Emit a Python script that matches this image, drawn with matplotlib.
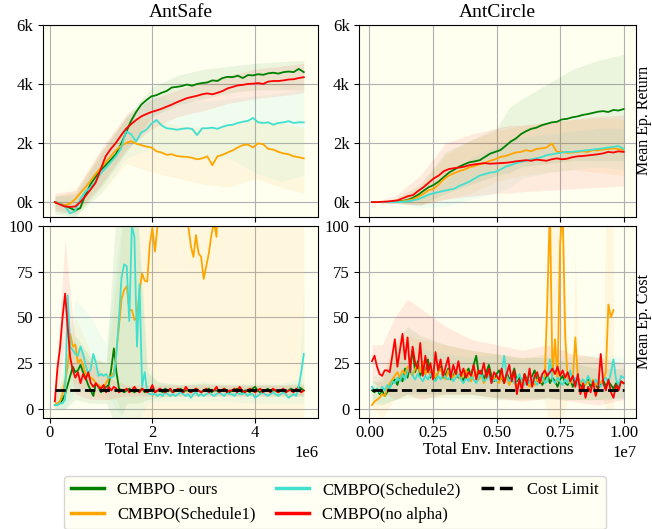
import numpy as np
import matplotlib
matplotlib.use("Agg")
import matplotlib.pyplot as plt
from matplotlib.lines import Line2D
from matplotlib.ticker import MultipleLocator

plt.rcParams['font.family'] = ['Liberation Serif', 'DejaVu Serif']
plt.rcParams['font.size'] = 12
plt.rcParams['axes.facecolor'] = 'ivory'
plt.rcParams['axes.linewidth'] = 0.8

# ---------------- AntSafe : return ----------------
safe_ret_x = np.linspace(0.1e6, 4.95e6, 50)
safe_ret_ours = [0, -60, -120, -200, -280, -200, 250, 600, 850, 1080, 1250, 1430, 1620, 1950, 2350,
                 2750, 3050, 3300, 3450, 3580, 3620, 3700, 3760, 3880, 3900, 3930, 3980, 3940, 4000,
                 4030, 4050, 4120, 4100, 4200, 4240, 4230, 4280, 4200, 4300, 4290, 4330, 4310, 4360,
                 4380, 4350, 4400, 4420, 4400, 4510, 4400]
safe_ret_sched1 = [0, -50, -100, -50, 100, 300, 500, 720, 950, 1150, 1350, 1550, 1750, 1900, 2000,
                   2060, 1980, 1930, 1880, 1850, 1720, 1680, 1600, 1620, 1560, 1540, 1530, 1500, 1450,
                   1480, 1550, 1250, 1550, 1600, 1680, 1750, 1850, 1930, 1950, 1850, 1990, 1960, 1800,
                   1780, 1700, 1650, 1620, 1550, 1520, 1480]
safe_ret_sched2 = [0, -50, -150, -380, -300, 100, 350, 500, 700, 970, 1150, 1350, 1550, 1800, 2400,
                   2300, 2050, 2350, 2450, 2650, 2780, 2600, 2500, 2480, 2450, 2480, 2500, 2480, 2270,
                   2500, 2500, 2520, 2480, 2550, 2600, 2620, 2680, 2720, 2750, 2850, 2700, 2680, 2700,
                   2620, 2680, 2700, 2740, 2680, 2700, 2700]
safe_ret_noalpha = [0, -80, -150, -160, -150, 0, 200, 420, 650, 1100, 1550, 1800, 2000, 2250, 2480,
                    2640, 2780, 2900, 2980, 3050, 3100, 3160, 3230, 3300, 3380, 3450, 3520, 3560, 3600,
                    3650, 3680, 3650, 3700, 3760, 3850, 3900, 3950, 3970, 4000, 4010, 4030, 4000, 4080,
                    4100, 4100, 4120, 4150, 4160, 4200, 4230]

# std bands (coarse)
safe_band_x = np.array([0.1, 0.5, 1.0, 1.5, 2.0, 2.5, 3.0, 3.5, 4.0, 4.5, 4.95]) * 1e6
safe_ret_ours_lo = [-400, -500, 500, 1700, 2900, 3300, 3500, 3700, 3800, 3800, 3800]
safe_ret_ours_hi = [200, 300, 1700, 2900, 3900, 4300, 4500, 4600, 4700, 4750, 4800]
safe_ret_sched1_lo = [-200, -400, 300, 1300, 1000, 800, 600, 500, 800, 500, 300]
safe_ret_sched1_hi = [200, 400, 1700, 2900, 2800, 2600, 2500, 2600, 2800, 2700, 2500]
safe_ret_sched2_lo = [-300, -500, 300, 1500, 1800, 1600, 1500, 1500, 1000, 700, 900]
safe_ret_sched2_hi = [200, 200, 1600, 2900, 3600, 3400, 3400, 3500, 3600, 3700, 3800]
safe_ret_noalpha_lo = [-300, -400, 600, 1800, 2500, 2900, 3100, 3350, 3500, 3600, 3700]
safe_ret_noalpha_hi = [300, 400, 1800, 3000, 3500, 3800, 4100, 4300, 4500, 4600, 4700]

# ---------------- AntCircle : return ----------------
circ_ret_x = np.linspace(0.01e7, 1.0e7, 50)
circ_ret_ours = [0, 0, 5, 10, 10, 20, 40, 80, 150, 250, 380, 500, 580, 700, 850, 1000, 1100, 1200,
                 1280, 1350, 1380, 1420, 1530, 1640, 1700, 1760, 1900, 2050, 2150, 2300, 2400, 2480,
                 2520, 2600, 2650, 2700, 2720, 2800, 2820, 2870, 2900, 2950, 2980, 3020, 3060, 3080,
                 3050, 3120, 3100, 3150]
circ_ret_sched1 = [0, 0, 0, 0, 0, 10, 30, 60, 100, 180, 280, 400, 450, 600, 780, 900, 980, 1050,
                   1100, 1180, 1220, 1280, 1330, 1400, 1450, 1530, 1560, 1620, 1680, 1700, 1760, 1720,
                   1800, 1820, 1850, 1990, 1700, 1700, 1670, 1680, 1700, 1720, 1700, 1760, 1750, 1780,
                   1800, 1820, 1790, 1760]
circ_ret_sched2 = [0, 0, 0, 0, 0, 0, 10, 30, 60, 100, 170, 250, 300, 340, 380, 420, 450, 550, 620,
                   700, 800, 900, 950, 1000, 1020, 1100, 1200, 1250, 1320, 1360, 1400, 1450, 1480,
                   1520, 1590, 1620, 1650, 1680, 1700, 1700, 1720, 1740, 1760, 1780, 1800, 1820, 1850,
                   1870, 1900, 1800]
circ_ret_noalpha = [0, 0, 10, 20, 40, 60, 130, 200, 240, 380, 500, 650, 800, 900, 1050, 1120, 1150,
                    1170, 1200, 1250, 1280, 1300, 1320, 1300, 1310, 1320, 1330, 1350, 1380, 1400, 1420,
                    1400, 1440, 1420, 1400, 1450, 1480, 1450, 1470, 1520, 1550, 1560, 1580, 1600, 1620,
                    1650, 1700, 1680, 1720, 1700]

circ_band_x = np.array([0.01, 0.1, 0.2, 0.3, 0.4, 0.5, 0.55, 0.6, 0.7, 0.8, 0.9, 1.0]) * 1e7
circ_ret_ours_lo = [0, -50, -100, 300, 600, 900, 1000, 1200, 1300, 1400, 1400, 1400]
circ_ret_ours_hi = [0, 100, 600, 1700, 2100, 2500, 3200, 3500, 4000, 4500, 4800, 5000]
circ_ret_sched1_lo = [0, 0, -100, 100, 300, 700, 800, 900, 1000, 1100, 1000, 900]
circ_ret_sched1_hi = [0, 100, 500, 1600, 2100, 2400, 2500, 2600, 2700, 2800, 2850, 2800]
circ_ret_sched2_lo = [0, 0, -200, -150, 100, 300, 500, 800, 1000, 1100, 1200, 1100]
circ_ret_sched2_hi = [0, 50, 200, 700, 1500, 1900, 2100, 2200, 2300, 2400, 2500, 2500]
circ_ret_noalpha_lo = [0, -50, -100, 100, 200, 300, 300, 350, 400, 450, 500, 550]
circ_ret_noalpha_hi = [0, 200, 900, 2000, 2300, 2500, 2600, 2600, 2700, 2800, 2900, 2950]

# ---------------- AntSafe : cost ----------------
safe_cost_x = np.linspace(0.1e6, 4.95e6, 98)
safe_cost_ours = [2, 2.5, 3, 5, 8, 13, 18, 23, 20, 21, 24, 20, 17, 13, 10, 7, 14, 12, 9, 11, 12, 13,
                  22, 33, 20, 11, 10,
                  9, 10, 11, 10, 9, 10, 10, 11, 9, 10, 10,
                  11, 9, 10, 10, 9, 11, 10, 10, 9, 10, 10, 11, 9, 10, 10, 9, 10, 11, 10, 9,
                  10, 10, 11, 9, 10, 10, 9, 10, 11, 10, 9, 10, 10, 11, 10, 9, 10, 10, 9, 11,
                  12, 10, 9, 10, 10, 11, 9, 10, 10, 9, 10, 10, 9, 10, 11, 10, 10, 12, 11, 10]
safe_cost_sched1 = [2, 3, 4, 8, 15, 23, 41, 34, 35, 25, 27, 24, 19, 18, 17, 16, 14, 13, 12, 12, 14,
                    17, 18, 20, 32, 45, 60, 65, 67, 54, 54, 48.6, 50, 65, 74, 70, 69.6, 90, 99, 86,
                    100, 110, 125, 140, 160, 150, 170, 155, 140, 130, 120, 110, 100, 89, 83, 95, 85,
                    83, 71, 78, 85, 95, 102, 94,
                    140, 160, 150, 170, 180, 160, 150, 175, 190, 170, 160, 150, 180, 170, 165, 190,
                    200, 180, 170, 160, 175, 185, 170, 160, 150, 165, 180, 175, 160, 155, 170, 160,
                    150, 145]
safe_cost_sched2 = [2, 2, 3, 3, 5, 62, 34, 32, 30, 29, 34, 30, 24, 19, 22, 30, 25, 18, 19, 18, 19,
                    17, 17, 18, 30, 50, 72, 79, 78, 48, 100, 94, 34, 68, 12, 20, 9, 8, 8,
                    8, 7, 8, 7, 9, 8, 7, 8, 7, 8, 9, 8, 7, 8, 6, 8, 9, 7, 8, 7,
                    8, 9, 8, 7, 8, 9, 8, 7, 9, 8, 8, 7, 9, 8, 8, 9, 7, 8, 8, 6,
                    7, 8, 9, 8, 7, 8, 9, 8, 7, 8, 9, 8, 6, 7, 8, 7, 12, 20, 30]
safe_cost_noalpha = [4, 22, 33, 50, 63, 45, 28, 21, 17, 20, 14, 19, 16, 20, 14, 12, 14, 12, 11, 13,
                     9, 12, 10, 12, 11, 9, 10,
                     10, 11, 9, 10, 12, 10, 9, 11, 10, 9, 10,
                     13, 9, 10, 11, 10, 9, 10, 11, 9, 10, 11, 10, 9, 12, 10, 9, 10, 11, 10, 9,
                     10, 11, 9, 10, 10, 12, 9, 10, 11, 9, 10, 10, 11, 9, 12, 10, 9, 10, 11, 10,
                     9, 10, 11, 9, 10, 10, 9, 11, 10, 9, 10, 11, 9, 10, 10, 9, 11, 10, 9, 10]

safe_cband_x = np.array([0.1, 0.3, 0.5, 0.8, 1.1, 1.3, 1.5, 1.7, 1.9, 2.1, 2.5, 3.0, 3.5, 4.0,
                         4.5, 4.85, 4.95]) * 1e6
safe_cost_ours_lo = [0, 0, 5, 3, 3, -10, 3, 3, 5, 6, 7, 7, 7, 7, 7, 7, 7]
safe_cost_ours_hi = [5, 20, 40, 28, 25, 110, 110, 110, 20, 15, 13, 14, 13, 13, 13, 14, 14]
safe_cost_sched1_lo = [0, 5, 15, 8, 5, 5, -10, -10, -10, -10, -10, -10, -10, -10, -10, -10, -10]
safe_cost_sched1_hi = [5, 25, 50, 30, 25, 70, 120, 120, 150, 150, 150, 150, 150, 150, 150, 150,
                       150]
safe_cost_sched2_lo = [0, 0, 10, 10, 8, 0, -10, -10, 3, 4, 4, 4, 4, 3, 3, 3, 3]
safe_cost_sched2_hi = [5, 30, 60, 50, 35, 80, 120, 120, 25, 14, 14, 15, 14, 14, 14, 16, 65]
safe_cost_noalpha_lo = [0, 35, 8, 5, 5, 6, 7, 7, 7, 7, 7, 7, 7, 7, 7, 7, 7]
safe_cost_noalpha_hi = [8, 93, 35, 25, 18, 15, 13, 13, 13, 13, 13, 13, 13, 13, 13, 13, 13]

# ---------------- AntCircle : cost ----------------
circ_cost_x = np.linspace(0.01e7, 1.0e7, 100)
circ_cost_ours = [10, 9, 11, 8, 10, 7, 9, 12, 14, 16, 13, 18, 15, 22, 17, 24, 32, 20, 26, 18,
                  23, 19, 27, 17, 21, 16, 20, 23, 17, 19, 22, 16, 18, 21, 17, 19, 15, 20, 22, 18,
                  24, 29, 19, 21, 16, 20, 24, 18, 15, 19, 21, 17, 14, 20, 16, 18, 22, 15, 17, 13,
                  19, 16, 14, 18, 21, 15, 17, 13, 16, 19, 14, 17, 15, 12, 16, 18, 14, 13, 16, 12,
                  15, 17, 13, 11, 14, 16, 12, 15, 13, 11, 14, 16, 12, 15, 13, 11, 14, 12, 15, 14]
circ_cost_sched1_x = np.linspace(0.01e7, 0.96e7, 96)
circ_cost_sched1 = [2, 4, 5, 6, 8, 7, 11, 14, 16, 18, 20, 17, 21, 19, 23, 20, 18, 22, 24, 20,
                    26, 19, 22, 18, 21, 17, 20, 22, 18, 16, 21, 19, 17, 20, 18, 16, 19, 21, 17, 15,
                    18, 20, 16, 18, 14, 17, 19, 15, 17, 16, 14, 18, 15, 17, 13, 16, 14, 12, 15, 13,
                    16, 14, 12, 15, 13, 16, 14, 15, 18, 60, 110, 18, 38, 15, 90, 110, 40, 15, 14, 16,
                    39, 17, 14, 16, 13, 15, 14, 16, 13, 15, 14, 16, 20, 57, 50, 54]
circ_cost_sched2 = [12, 10, 11, 9, 12, 10, 13, 11, 15, 14, 17, 15, 19, 16, 20, 24, 18, 16, 19, 17,
                    15, 18, 16, 19, 17, 15, 18, 16, 19, 17, 16, 18, 15, 17, 19, 16, 14, 17, 15, 18,
                    16, 14, 17, 19, 15, 16, 18, 14, 16, 15, 17, 20, 29, 18, 15, 17, 14, 16, 19, 15,
                    13, 16, 14, 17, 15, 13, 16, 18, 14, 15, 27, 16, 14, 17, 15, 13, 16, 14, 21, 15,
                    17, 13, 15, 16, 14, 18, 15, 13, 16, 14, 12, 15, 17, 14, 20, 27, 16, 13, 18, 17]
circ_cost_noalpha = [26, 29, 23, 19, 18, 21, 21, 20, 29, 38, 23, 32, 41, 27, 39, 20, 34, 25, 22, 36,
                     18, 29, 20, 25, 16, 31, 21, 27, 18, 23, 28, 17, 24, 19, 26, 18, 22, 17, 20, 18,
                     24, 16, 21, 19, 25, 17, 22, 14, 20, 18, 16, 22, 14, 19, 24, 15, 21, 8, 16, 10,
                     19, 13, 22, 12, 18, 20, 14, 19, 21, 18, 20, 22, 19, 23, 18, 21, 17, 20, 15, 18,
                     12, 19, 8, 14, 6, 12, 9, 15, 7, 12, 30, 14, 10, 16, 9, 6, 13, 10, 15, 14]

circ_cband_x = np.array([0.01, 0.05, 0.1, 0.15, 0.2, 0.3, 0.4, 0.5, 0.6, 0.7, 0.8, 0.9, 1.0]) * 1e7
circ_cost_ours_lo = [3, 2, 5, 8, 8, 8, 8, 6, 6, 6, 5, 5, 6]
circ_cost_ours_hi = [15, 15, 35, 45, 40, 35, 32, 30, 28, 28, 25, 22, 22]
circ_cost_sched2_lo = [5, 3, 5, 6, 6, 6, 6, 5, 5, 5, 5, 5, 5]
circ_cost_sched2_hi = [18, 18, 30, 35, 33, 30, 28, 30, 27, 30, 28, 30, 28]
circ_cost_noalpha_lo = [15, 10, 5, 8, 5, 8, 8, 6, 4, 6, 4, 2, 5]
circ_cost_noalpha_hi = [35, 35, 50, 60, 55, 45, 38, 35, 32, 35, 30, 28, 25]
circ_s1band_x = np.array([0.01, 0.05, 0.1, 0.15, 0.2, 0.3, 0.4, 0.5, 0.6, 0.69, 0.7, 0.72, 0.74,
                          0.76, 0.78, 0.8, 0.81, 0.82, 0.9, 0.92, 0.93, 0.96]) * 1e7
circ_cost_sched1_lo = [0, -5, 5, 6, 6, 6, 6, 5, 5, 5, -5, -5, -5, -5, 5, 5, 5, 5, 5, 5, 0, 0]
circ_cost_sched1_hi = [8, 20, 35, 40, 38, 35, 32, 30, 28, 30, 110, 110, 110, 110, 30, 30, 90, 30,
                       28, 30, 110, 110]

cost_limit = 10

names = ['CMBPO - ours', 'CMBPO(Schedule1)', 'CMBPO(Schedule2)', 'CMBPO(no alpha)']
colors = ['green', 'orange', 'turquoise', 'red']

fig = plt.figure(figsize=(6.52, 5.29), dpi=100)
ax_sr = fig.add_axes([0.066, 0.590, 0.422, 0.363])
ax_cr = fig.add_axes([0.551, 0.590, 0.425, 0.363])
ax_sc = fig.add_axes([0.066, 0.210, 0.422, 0.363])
ax_cc = fig.add_axes([0.551, 0.210, 0.425, 0.363])


def draw(ax, xs, means, band_xs, los, his):
    # bands first, then the mean lines on top
    for bx, lo, hi, c in zip(band_xs, los, his, colors):
        ax.fill_between(bx, lo, hi, color=c, alpha=0.08, lw=0)
    for x, m, c in zip(xs, means, colors):
        ax.plot(x, m, color=c, lw=1.3)


draw(ax_sr, [safe_ret_x] * 4,
     [safe_ret_ours, safe_ret_sched1, safe_ret_sched2, safe_ret_noalpha],
     [safe_band_x] * 4,
     [safe_ret_ours_lo, safe_ret_sched1_lo, safe_ret_sched2_lo, safe_ret_noalpha_lo],
     [safe_ret_ours_hi, safe_ret_sched1_hi, safe_ret_sched2_hi, safe_ret_noalpha_hi])
draw(ax_cr, [circ_ret_x] * 4,
     [circ_ret_ours, circ_ret_sched1, circ_ret_sched2, circ_ret_noalpha],
     [circ_band_x] * 4,
     [circ_ret_ours_lo, circ_ret_sched1_lo, circ_ret_sched2_lo, circ_ret_noalpha_lo],
     [circ_ret_ours_hi, circ_ret_sched1_hi, circ_ret_sched2_hi, circ_ret_noalpha_hi])
draw(ax_sc, [safe_cost_x] * 4,
     [safe_cost_ours, safe_cost_sched1, safe_cost_sched2, safe_cost_noalpha],
     [safe_cband_x] * 4,
     [safe_cost_ours_lo, safe_cost_sched1_lo, safe_cost_sched2_lo, safe_cost_noalpha_lo],
     [safe_cost_ours_hi, safe_cost_sched1_hi, safe_cost_sched2_hi, safe_cost_noalpha_hi])
draw(ax_cc, [circ_cost_x, circ_cost_sched1_x, circ_cost_x, circ_cost_x],
     [circ_cost_ours, circ_cost_sched1, circ_cost_sched2, circ_cost_noalpha],
     [circ_cband_x, circ_s1band_x, circ_cband_x, circ_cband_x],
     [circ_cost_ours_lo, circ_cost_sched1_lo, circ_cost_sched2_lo, circ_cost_noalpha_lo],
     [circ_cost_ours_hi, circ_cost_sched1_hi, circ_cost_sched2_hi, circ_cost_noalpha_hi])

# cost limit lines
ax_sc.plot([safe_cost_x[0], safe_cost_x[-1]], [cost_limit, cost_limit], 'k--', lw=2)
ax_cc.plot([circ_cost_x[0], circ_cost_x[-1]], [cost_limit, cost_limit], 'k--', lw=2)

# axes config
for ax in [ax_sr, ax_cr]:
    ax.set_ylim(-500, 6000)
    ax.set_yticks([0, 2000, 4000, 6000])
    ax.set_yticklabels(['0k', '2k', '4k', '6k'])
    ax.tick_params(labelbottom=False)
for ax in [ax_sc, ax_cc]:
    ax.set_ylim(-5, 100)
    ax.set_yticks([0, 25, 50, 75, 100])
    ax.tick_params(axis='x', pad=1.5)
    ax.set_xlabel('Total Env. Interactions', labelpad=1)
for ax in [ax_sr, ax_sc]:
    ax.set_xlim(-0.13e6, 5.23e6)
    ax.xaxis.set_major_locator(MultipleLocator(2e6))
for ax in [ax_cr, ax_cc]:
    ax.set_xlim(-0.04e7, 1.05e7)
    ax.xaxis.set_major_locator(MultipleLocator(0.25e7))
for ax in [ax_sr, ax_cr, ax_sc, ax_cc]:
    ax.grid(True, color='#b0b0b0', lw=0.8)
    ax.set_axisbelow(True)
    ax.tick_params(labelsize=12)
    ax.xaxis.get_offset_text().set_fontsize(12)

ax_sr.set_title('AntSafe', fontsize=14)
ax_cr.set_title('AntCircle', fontsize=14)
ax_cr.yaxis.set_label_position('right')
ax_cr.set_ylabel('Mean Ep. Return', fontsize=11.5, labelpad=0)
ax_cc.yaxis.set_label_position('right')
ax_cc.set_ylabel('Mean Ep. Cost', fontsize=11.5, labelpad=0)

# legend
handles = [Line2D([], [], color=c, lw=2.5) for c in colors]
handles.append(Line2D([], [], color='black', lw=2.5, ls='--'))
fig.legend(handles, names + ['Cost Limit'], loc='upper left', bbox_to_anchor=(0.098, 0.101),
           ncol=3, fontsize=12, frameon=True, columnspacing=1.2, borderaxespad=0)

fig.savefig('out.png', dpi=100)
